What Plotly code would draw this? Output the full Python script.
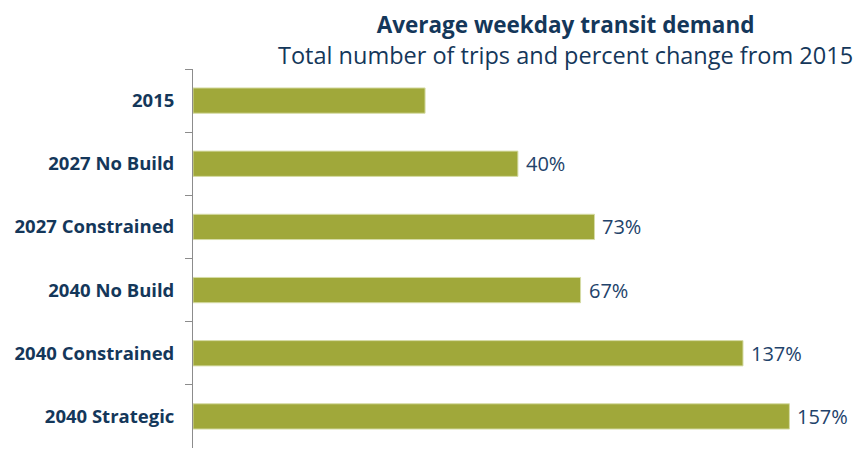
import plotly.graph_objects as go

# data (2015 = 100)
scenarios = ['2015', '2027 No Build', '2027 Constrained', '2040 No Build',
             '2040 Constrained', '2040 Strategic']
trip_index = [100, 140, 173, 167, 237, 257]
pct_labels = ['', '40%', '73%', '67%', '137%', '157%']

navy = '#14375a'
olive = '#a0a83a'

fig = go.Figure()
fig.add_trace(
    go.Bar(
        x=trip_index,
        y=scenarios,
        orientation='h',
        marker=dict(color=olive, line=dict(color='#d6dca6', width=1)),
        width=0.4,
        showlegend=False,
        hoverinfo='skip',
    )
)

for val, cat, lab in zip(trip_index, scenarios, pct_labels):
    if lab:
        fig.add_annotation(
            x=val, y=cat, text=lab, xref='x', yref='y',
            xanchor='left', showarrow=False, xshift=6,
            font=dict(family='Open Sans', size=20, color='#22426a'),
        )

# title + subtitle in one block (page has an 8px body margin, so keep it inside the figure)
fig.add_annotation(
    text=("<b><span style='font-size:22.5px'>Average weekday transit demand</span></b>"
          "<br>Total number of trips and percent change from 2015"),
    xref='paper', yref='paper', x=0.553, y=1.0, yshift=61,
    xanchor='center', yanchor='top', showarrow=False, borderpad=0,
    font=dict(family='Open Sans', size=23.5, color=navy),
)

fig.update_layout(
    width=859, height=441,
    margin=dict(l=185, r=1, t=61, b=1),
    plot_bgcolor='white', paper_bgcolor='white',
    xaxis=dict(range=[0, 290], visible=False, showgrid=False),
    yaxis=dict(
        autorange='reversed', type='category', automargin=False,
        showline=True, linecolor='#8c8c8c', linewidth=1,
        ticks='outside', tickson='boundaries', ticklen=7, tickcolor='#8c8c8c',
        ticklabelstandoff=14,
        tickfont=dict(family='Open Sans', size=18.5, color=navy, weight='bold'),
        showgrid=False,
    ),
)

fig.write_html("out.html")
